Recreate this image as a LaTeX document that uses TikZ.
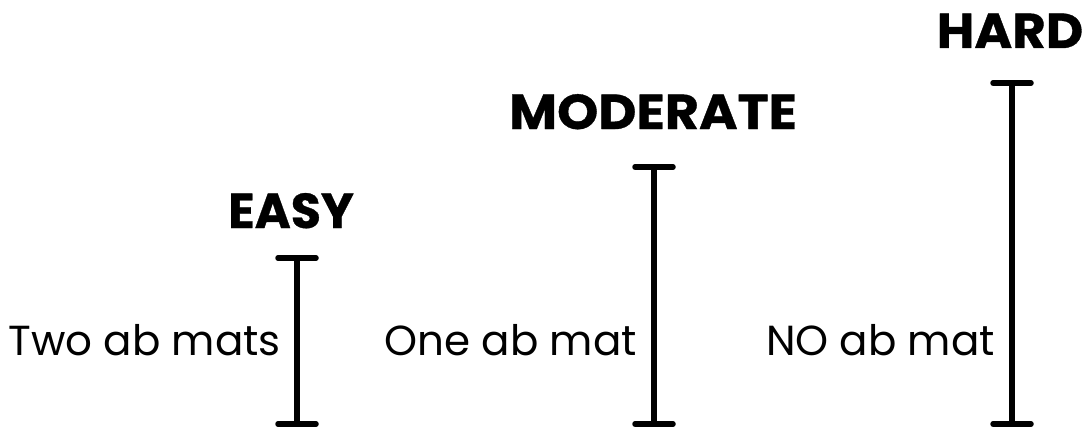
\documentclass[tikz,border=0pt]{standalone}
\usepackage{fontspec}
\setmainfont{Poppins}[BoldFeatures={FakeBold=0.7}]
\begin{document}
\begin{tikzpicture}[x=1pt,y=-1pt,
  bar/.style={line width=5.5pt,line cap=round},
  head/.style={inner sep=0pt,anchor=base,font=\fontsize{49}{50}\selectfont\bfseries},
  lab/.style={inner sep=0pt,anchor=base east,font=\fontsize{42}{44}\selectfont}]
\useasboundingbox (0,0) rectangle (1089,428);
% bars
\foreach \n/\x/\t in {e/297/258, m/654/167, h/1012/83}{
  \coordinate (\n top) at (\x,\t);
  \coordinate (\n bot) at (\x,424);
  \coordinate (\n tl) at (\x-19,\t);
  \coordinate (\n tr) at (\x+19,\t);
  \coordinate (\n bl) at (\x-19,424);
  \coordinate (\n br) at (\x+19,424);
  \draw[bar] (\n top) -- (\n bot);
  \draw[bar] (\n tl) -- (\n tr);
  \draw[bar] (\n bl) -- (\n br);
}
\node[head] (easy) at (291,228) {EASY};
\node[head,xscale=1.07] (moderate) at (653,129) {MODERATE};
\node[head,xscale=1.05] (hard) at (1010,48) {HARD};
\node[lab] (two) at (281,355) {Two ab mats};
\node[lab] (one) at (637,355) {One ab mat};
\node[lab] (no) at (995,355) {NO ab mat};
\end{tikzpicture}
\end{document}
